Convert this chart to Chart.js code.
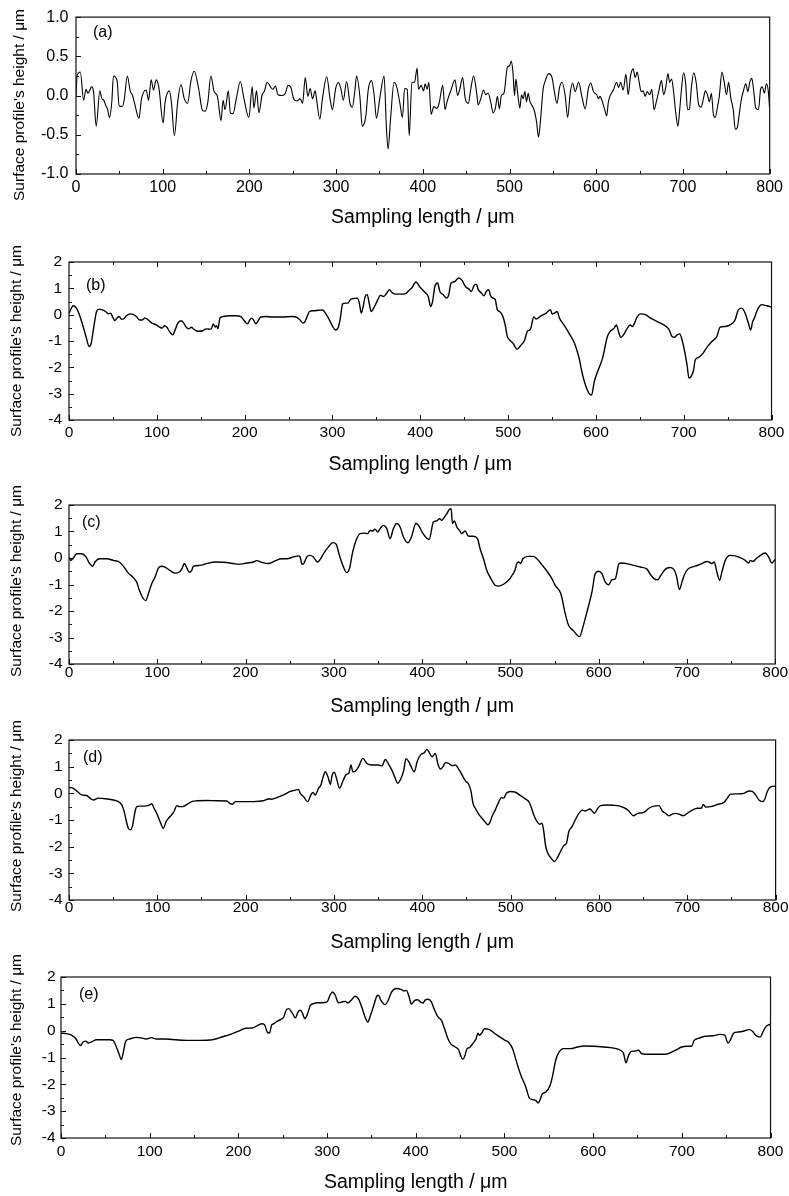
<!DOCTYPE html>
<html>
<head>
<meta charset="utf-8">
<title>Surface profiles</title>
<script src="https://cdn.jsdelivr.net/npm/chart.js@4.4.1/dist/chart.umd.min.js"></script>
<style>
  html, body { margin: 0; padding: 0; background: #fff; }
  body { width: 789px; height: 1196px; position: relative; overflow: hidden; }
  canvas { position: absolute; left: 0; }
</style>
</head>
<body>
<canvas id="pa"></canvas>
<canvas id="pb"></canvas>
<canvas id="pc"></canvas>
<canvas id="pd"></canvas>
<canvas id="pe"></canvas>
<script>
// ---- profile data: sampling position (µm) and surface height (µm) ----

const lengthA = [0, 1.2, 5.0, 8.8, 11.5, 13.8, 16.0, 18.0, 20.2, 23.3,
  27.5, 29.8, 32.1, 34.4, 36.3, 38.6, 41.3, 43.2, 47.4, 49.7,
  53.5, 55.8, 59.2, 62.7, 64.9, 67.6, 72.6, 75.6, 81.0, 83.7,
  86.7, 89.4, 92.5, 95.5, 100.5, 102.8, 107.7, 110.0, 113.5, 117.3,
  121.1, 124.9, 128.7, 132.6, 136.4, 141.4, 145.9, 149.0, 152.1, 155.5,
  159.3, 163.1, 167.3, 169.6, 171.9, 175.7, 178.0, 181.1, 184.9, 189.5,
  193.7, 199.4, 203.2, 205.2, 208.2, 210.9, 214.7, 217.4, 220.4, 224.3,
  226.9, 230.0, 233.0, 237.6, 241.5, 244.5, 247.6, 251.0, 254.8, 258.6,
  261.3, 264.4, 267.4, 270.1, 272.8, 275.8, 277.7, 281.2, 284.2, 289.2,
  293.0, 295.7, 299.5, 302.6, 305.6, 308.3, 312.1, 316.0, 318.6, 321.7,
  323.6, 327.4, 330.1, 334.3, 337.0, 340.8, 343.8, 346.5, 350.3, 355.3,
  358.0, 359.9, 362.9, 366.8, 369.4, 373.3, 376.5, 379.0, 382.0, 384.3,
  387.4, 390.4, 393.5, 395.0, 398.1, 400.8, 402.7, 405.0, 406.9, 409.6,
  412.6, 415.3, 417.2, 419.1, 423.0, 425.6, 427.9, 432.5, 437.1, 440.1,
  442.8, 445.9, 448.9, 452.4, 455.4, 458.5, 461.9, 463.8, 466.9, 469.9,
  472.6, 475.3, 478.3, 481.0, 483.7, 486.0, 488.3, 490.6, 493.6, 497.5,
  500.1, 502.0, 503.9, 505.8, 507.3, 509.6, 511.9, 513.8, 515.8, 517.7,
  519.6, 521.5, 523.4, 526.1, 528.8, 531.1, 533.4, 535.6, 538.6, 541.3,
  545.2, 549.0, 552.0, 554.7, 557.8, 560.5, 564.3, 567.0, 570.0, 572.7,
  575.8, 579.6, 583.4, 587.2, 591.0, 593.7, 596.8, 600.6, 602.5, 604.4,
  607.1, 609.8, 612.0, 614.0, 616.6, 619.7, 623.5, 625.8, 628.1, 631.1,
  634.2, 636.9, 639.5, 642.6, 644.9, 647.2, 649.5, 651.8, 654.1, 656.4,
  658.7, 661.7, 664.0, 666.7, 669.3, 672.4, 675.1, 677.8, 680.1, 682.7,
  684.6, 686.9, 689.2, 691.5, 694.2, 696.1, 698.4, 700.7, 703.0, 705.3,
  707.5, 709.8, 712.5, 715.2, 718.2, 720.9, 723.6, 725.9, 728.2, 730.5,
  732.8, 735.1, 737.3, 739.6, 741.9, 745.0, 747.6, 750.3, 752.6, 755.3,
  758.0, 760.3, 762.6, 764.9, 767.2, 770.2, 772.5, 774.8, 777.1, 779.4,
  781.7, 784.0, 787.1, 789.7, 791.6, 793.9, 796.2, 798.5, 800.0];
const heightA = [-0.02, 0.25, 0.30, -0.06, 0.08, 0.03, 0.07, 0.11, 0.05, -0.39,
  0.06, -0.04, -0.06, -0.13, -0.17, -0.28, -0.08, 0.25, 0.19, -0.13,
  -0.14, -0.04, 0.25, 0.05, 0.01, -0.10, -0.29, -0.04, 0.07, -0.06,
  0.20, 0.07, 0.20, 0.11, -0.35, -0.08, 0.06, -0.08, -0.51, -0.08,
  0.14, -0.04, -0.10, 0.19, 0.31, 0.09, -0.19, -0.20, -0.08, 0.25,
  0.05, -0.01, -0.32, -0.06, -0.18, 0.06, -0.22, -0.23, -0.04, 0.18,
  -0.04, -0.28, 0.11, -0.16, 0.06, -0.22, 0.01, 0.06, 0.17, 0.11,
  0.08, 0.12, 0.01, 0.00, 0.03, 0.13, 0.11, -0.04, -0.07, -0.04,
  -0.10, 0.23, -0.01, 0.09, -0.04, 0.06, -0.07, -0.30, -0.04, 0.24,
  -0.04, -0.18, 0.09, 0.17, 0.08, -0.06, 0.18, -0.10, -0.15, 0.07,
  0.25, -0.01, -0.39, -0.26, 0.07, 0.19, 0.01, -0.29, -0.04, 0.25,
  -0.41, -0.68, -0.28, 0.17, 0.13, -0.08, -0.28, 0.09, 0.08, -0.51,
  0.17, 0.17, 0.35, 0.08, 0.13, 0.06, 0.15, 0.08, 0.17, -0.24,
  -0.14, -0.16, -0.15, -0.08, 0.13, -0.18, -0.08, 0.07, 0.20, 0.00,
  0.09, 0.23, -0.04, -0.10, 0.09, 0.25, 0.05, -0.12, -0.04, 0.07,
  0.01, 0.03, -0.08, -0.22, -0.16, -0.01, -0.17, 0.00, 0.03, 0.36,
  0.38, 0.44, 0.30, 0.00, 0.21, 0.01, -0.16, 0.01, -0.04, 0.05,
  -0.08, 0.03, -0.07, -0.13, -0.20, -0.33, -0.53, -0.33, 0.07, 0.19,
  0.28, 0.23, 0.03, -0.10, 0.11, 0.17, -0.01, -0.28, 0.03, 0.16,
  0.05, 0.17, -0.01, -0.17, 0.09, 0.16, 0.05, 0.01, -0.04, -0.01,
  -0.08, -0.18, -0.26, -0.08, 0.01, 0.07, 0.17, 0.10, 0.17, 0.07,
  0.27, 0.01, 0.25, 0.34, 0.23, 0.30, 0.17, 0.05, 0.06, -0.01,
  0.05, 0.01, 0.08, -0.18, -0.08, 0.07, 0.19, 0.01, 0.10, 0.28,
  0.17, 0.21, 0.05, -0.20, -0.39, -0.20, 0.09, 0.29, 0.17, -0.18,
  -0.17, 0.11, 0.29, 0.17, -0.12, -0.15, -0.04, 0.06, 0.01, -0.08,
  0.03, -0.24, -0.28, -0.16, -0.01, 0.30, 0.17, 0.01, 0.17, -0.04,
  -0.18, -0.43, -0.41, -0.24, -0.06, 0.08, 0.15, 0.05, 0.17, 0.22,
  0.05, -0.16, -0.18, 0.09, 0.11, 0.03, 0.15, 0.05, -0.18];

const lengthB = [0, 4.9, 9.4, 14.4, 19.3, 23.0, 25.3, 28.3, 31.4, 34.4,
  38.1, 41.9, 45.0, 47.2, 49.5, 52.1, 54.8, 57.0, 59.7, 62.3,
  65.3, 69.9, 72.9, 76.7, 80.5, 83.5, 86.5, 90.3, 93.7, 99.3,
  103.1, 106.1, 108.8, 111.4, 114.4, 118.2, 121.2, 123.9, 127.7, 130.3,
  133.3, 136.4, 139.4, 142.0, 144.7, 148.4, 152.2, 155.2, 157.5, 159.8,
  162.0, 164.3, 166.6, 168.1, 169.6, 171.9, 175.6, 182.4, 190.0, 195.7,
  199.4, 203.2, 205.9, 208.1, 210.4, 212.7, 214.9, 218.3, 224.0, 231.5,
  242.9, 254.2, 259.9, 263.6, 266.3, 268.6, 271.2, 273.9, 278.8, 284.4,
  288.9, 292.0, 296.5, 300.3, 303.3, 306.3, 309.0, 311.6, 314.6, 317.7,
  320.3, 325.2, 328.2, 330.5, 332.8, 335.0, 337.3, 339.6, 341.8, 344.1,
  347.9, 351.7, 354.7, 358.1, 361.9, 364.9, 367.5, 371.3, 377.0, 382.6,
  387.2, 390.2, 395.1, 399.6, 405.3, 409.1, 411.7, 414.0, 416.6, 419.7,
  422.3, 426.1, 429.9, 432.5, 434.8, 439.3, 443.8, 447.6, 451.4, 455.2,
  458.2, 461.2, 463.9, 465.8, 469.6, 472.5, 475.2, 477.8, 480.1, 482.8,
  485.4, 487.7, 490.4, 494.1, 496.7, 499.0, 501.7, 505.5, 510.4, 514.2,
  518.7, 521.8, 525.5, 529.3, 532.0, 537.7, 543.4, 548.3, 550.2, 552.8,
  555.9, 558.5, 564.2, 569.8, 575.5, 580.4, 584.9, 588.7, 592.5, 595.1,
  598.2, 602.0, 607.6, 613.3, 617.1, 620.8, 623.4, 625.7, 628.4, 631.4,
  635.2, 639.0, 641.6, 644.0, 647.2, 651.0, 656.6, 662.3, 669.8, 677.3,
  683.0, 686.8, 689.4, 692.5, 695.5, 698.1, 700.7, 703.8, 706.0, 708.3,
  711.3, 713.1, 716.9, 721.9, 726.4, 732.1, 737.7, 741.5, 747.2, 752.8,
  758.5, 762.3, 766.1, 769.9, 773.6, 776.3, 778.5, 780.1, 783.1, 786.1,
  788.7, 794.4, 800.0];
const heightB = [0.05, 0.34, 0.19, -0.26, -0.83, -1.21, -1.08, -0.45, 0.12, 0.21,
  0.18, 0.11, 0.03, 0.06, -0.07, -0.22, -0.13, -0.07, -0.17, -0.16,
  -0.04, 0.03, 0.01, -0.07, -0.20, -0.20, -0.12, -0.20, -0.30, -0.39,
  -0.47, -0.51, -0.42, -0.48, -0.64, -0.76, -0.55, -0.32, -0.23, -0.30,
  -0.47, -0.54, -0.48, -0.55, -0.61, -0.63, -0.61, -0.55, -0.54, -0.55,
  -0.54, -0.35, -0.47, -0.42, -0.53, -0.13, -0.07, -0.04, -0.04, -0.07,
  -0.22, -0.35, -0.20, -0.13, -0.22, -0.35, -0.26, -0.09, -0.07, -0.09,
  -0.09, -0.07, -0.11, -0.22, -0.32, -0.27, -0.07, 0.12, 0.15, 0.17,
  0.18, 0.06, -0.20, -0.45, -0.58, -0.51, -0.13, 0.41, 0.44, 0.44,
  0.57, 0.62, 0.63, 0.46, 0.06, 0.31, 0.69, 0.76, 0.44, 0.12,
  0.31, 0.57, 0.74, 0.69, 0.82, 0.95, 0.85, 0.78, 0.78, 0.79,
  0.92, 1.01, 1.24, 1.05, 0.85, 0.69, 0.31, 0.50, 1.07, 1.20,
  0.88, 0.76, 0.63, 0.76, 1.18, 1.26, 1.39, 1.30, 1.07, 0.98,
  0.88, 1.10, 1.16, 0.97, 0.82, 0.72, 0.88, 0.95, 0.72, 0.63,
  0.57, 0.19, 0.12, -0.07, -0.39, -0.81, -0.96, -1.08, -1.31, -1.18,
  -0.98, -0.64, -0.55, -0.09, -0.17, -0.04, 0.06, 0.19, 0.02, 0.06,
  0.12, -0.13, -0.42, -0.73, -1.08, -1.59, -2.29, -2.73, -3.01, -3.05,
  -2.54, -2.16, -1.65, -0.81, -0.61, -0.51, -0.39, -0.64, -0.86, -0.77,
  -0.55, -0.39, -0.45, -0.32, -0.07, 0.03, 0.00, -0.13, -0.26, -0.39,
  -0.55, -0.83, -0.86, -0.77, -0.73, -0.96, -1.34, -1.91, -2.41, -2.35,
  -2.10, -1.72, -1.62, -1.47, -1.24, -1.02, -0.83, -0.47, -0.45, -0.39,
  -0.20, 0.19, 0.25, 0.06, -0.32, -0.58, -0.26, -0.16, 0.12, 0.31,
  0.38, 0.34, 0.29];

const lengthC = [0, 1.9, 4.9, 8.7, 14.4, 19.3, 23.0, 26.8, 29.5, 34.4,
  42.7, 50.2, 57.0, 62.3, 67.2, 72.9, 76.7, 79.7, 83.5, 86.9,
  89.9, 93.7, 97.5, 101.2, 104.9, 108.8, 114.4, 120.1, 125.0, 128.0,
  130.7, 133.3, 136.4, 139.0, 140.9, 148.4, 156.0, 165.4, 174.9, 186.2,
  191.9, 201.3, 208.9, 212.7, 218.3, 225.9, 233.4, 241.0, 246.7, 254.2,
  259.9, 261.8, 264.0, 266.3, 269.3, 273.1, 276.9, 281.4, 284.4, 288.2,
  293.9, 298.8, 302.6, 306.3, 310.9, 314.6, 317.7, 321.4, 325.2, 329.7,
  334.3, 338.0, 341.1, 344.1, 346.7, 349.8, 352.4, 356.2, 360.0, 363.7,
  367.5, 371.3, 375.1, 378.9, 384.0, 388.0, 393.0, 396.5, 400.5, 408.0,
  412.8, 416.6, 419.7, 422.3, 424.9, 428.0, 431.0, 432.9, 434.3, 436.6,
  439.3, 442.3, 444.9, 448.7, 452.5, 458.2, 462.7, 465.7, 469.5, 473.3,
  477.0, 482.7, 486.5, 492.2, 497.8, 501.6, 505.4, 507.3, 509.6, 511.8,
  514.1, 520.5, 526.2, 530.0, 535.6, 541.3, 547.0, 550.8, 557.2, 562.1,
  565.9, 571.6, 578.4, 582.2, 586.7, 592.4, 596.1, 599.9, 603.7, 607.5,
  611.3, 615.1, 618.9, 622.6, 624.5, 632.1, 639.6, 647.2, 654.7, 659.2,
  663.0, 666.7, 670.5, 675.4, 680.3, 684.8, 687.9, 691.6, 694.3, 696.9,
  700.7, 709.4, 717.0, 722.6, 725.6, 728.3, 730.9, 733.9, 737.0, 739.6,
  743.4, 749.0, 754.7, 760.3, 766.0, 769.8, 771.7, 774.7, 779.2, 784.9,
  788.7, 792.5, 796.3, 798.9, 800.0];
const heightC = [0.04, -0.09, 0.00, 0.16, 0.16, 0.04, -0.19, -0.31, -0.15, -0.03,
  -0.03, -0.09, -0.15, -0.34, -0.57, -0.74, -0.91, -1.22, -1.50, -1.61,
  -1.35, -0.97, -0.72, -0.38, -0.31, -0.34, -0.47, -0.57, -0.53, -0.40,
  -0.21, -0.36, -0.54, -0.47, -0.31, -0.28, -0.21, -0.15, -0.16, -0.21,
  -0.24, -0.19, -0.15, -0.10, -0.16, -0.21, -0.11, -0.03, -0.03, 0.04,
  0.08, 0.04, -0.24, -0.19, 0.04, 0.10, 0.04, -0.15, -0.06, 0.16,
  0.42, 0.58, 0.52, 0.10, -0.34, -0.55, -0.40, 0.23, 0.67, 0.92,
  0.94, 0.92, 1.04, 1.02, 1.09, 0.98, 1.11, 1.23, 1.11, 0.73,
  1.11, 1.30, 1.17, 0.79, 0.57, 0.80, 1.31, 1.20, 0.95, 0.70,
  1.36, 1.40, 1.48, 1.42, 1.52, 1.67, 1.84, 1.86, 1.30, 1.40,
  1.17, 1.04, 0.92, 1.02, 0.82, 0.82, 0.73, 0.35, -0.03, -0.47,
  -0.72, -1.03, -1.06, -0.99, -0.84, -0.67, -0.44, -0.21, -0.15, -0.21,
  -0.03, 0.06, 0.06, -0.03, -0.25, -0.49, -0.78, -1.03, -1.35, -2.10,
  -2.54, -2.75, -2.97, -2.60, -2.04, -1.28, -0.59, -0.50, -0.59, -0.91,
  -1.01, -0.82, -0.78, -0.24, -0.19, -0.21, -0.28, -0.34, -0.42, -0.65,
  -0.79, -0.82, -0.65, -0.43, -0.36, -0.42, -0.65, -1.19, -0.91, -0.65,
  -0.43, -0.31, -0.21, -0.13, -0.16, -0.21, -0.15, -0.53, -0.84, -0.53,
  -0.09, 0.10, 0.08, 0.01, -0.09, -0.19, -0.09, -0.13, 0.00, 0.14,
  0.19, 0.04, -0.19, -0.09, -0.06];

const lengthD = [0, 4.9, 9.4, 14.4, 20.0, 23.8, 27.5, 33.2, 42.7, 50.2,
  55.9, 59.7, 62.3, 64.6, 67.2, 69.9, 72.1, 74.8, 76.7, 80.5,
  87.3, 91.0, 93.7, 96.3, 99.3, 103.1, 106.9, 109.9, 114.4, 119.0,
  122.0, 125.0, 128.8, 133.3, 139.0, 144.7, 156.0, 167.3, 178.7, 182.4,
  185.1, 188.1, 197.5, 208.9, 220.2, 225.9, 229.6, 235.3, 242.9, 250.4,
  256.1, 259.9, 261.8, 265.5, 270.1, 273.9, 276.1, 278.8, 282.5, 285.2,
  287.5, 290.1, 293.2, 295.8, 298.0, 300.3, 303.3, 306.3, 310.1, 313.9,
  316.9, 319.2, 321.4, 324.5, 327.9, 332.8, 337.3, 343.0, 350.5, 354.3,
  358.1, 361.9, 365.6, 369.4, 372.1, 375.1, 378.9, 381.5, 384.5, 387.2,
  390.9, 394.3, 398.5, 402.2, 405.3, 408.3, 411.0, 414.8, 417.5, 420.5,
  423.4, 426.1, 429.9, 433.7, 437.4, 441.2, 445.0, 448.8, 452.5, 455.2,
  457.3, 460.0, 463.8, 467.5, 471.3, 474.0, 476.2, 478.9, 482.6, 486.5,
  489.5, 492.1, 495.1, 499.7, 505.4, 511.0, 516.7, 520.5, 523.1, 526.2,
  529.9, 532.9, 535.6, 537.5, 539.4, 542.0, 545.8, 549.6, 552.7, 556.4,
  560.2, 563.2, 565.9, 569.7, 573.5, 577.3, 581.0, 584.7, 589.6, 592.3,
  595.0, 598.0, 601.7, 609.3, 620.6, 628.2, 633.9, 635.8, 638.9, 643.3,
  650.8, 656.5, 662.2, 667.9, 671.7, 675.4, 679.2, 683.0, 686.7, 690.5,
  695.4, 700.0, 705.6, 711.3, 715.8, 718.1, 720.7, 726.4, 734.0, 741.5,
  745.3, 749.0, 756.6, 764.1, 769.8, 773.6, 777.4, 781.1, 784.9, 787.9,
  790.6, 794.4, 799.0, 800.0];
const heightD = [0.22, 0.19, 0.07, -0.06, -0.08, -0.18, -0.25, -0.18, -0.21, -0.25,
  -0.31, -0.43, -0.66, -1.00, -1.31, -1.37, -1.18, -0.68, -0.50, -0.48,
  -0.47, -0.44, -0.39, -0.56, -0.75, -1.06, -1.31, -1.06, -0.87, -0.68,
  -0.46, -0.50, -0.50, -0.42, -0.31, -0.28, -0.27, -0.28, -0.29, -0.39,
  -0.41, -0.31, -0.31, -0.31, -0.28, -0.21, -0.22, -0.16, -0.06, 0.07,
  0.12, 0.15, 0.00, -0.12, -0.31, -0.06, 0.03, -0.06, 0.19, 0.31,
  0.59, 0.81, 0.62, 0.34, 0.69, 0.79, 0.50, 0.19, 0.46, 0.71,
  0.75, 1.06, 0.81, 0.84, 1.00, 1.31, 1.12, 1.06, 1.06, 1.03,
  1.27, 1.09, 0.87, 0.56, 0.38, 0.50, 0.85, 1.30, 1.20, 1.01,
  0.81, 1.20, 1.46, 1.52, 1.65, 1.50, 1.37, 1.50, 1.12, 0.91,
  1.00, 1.15, 1.12, 1.03, 1.06, 0.91, 0.69, 0.47, 0.34, 0.07,
  -0.37, -0.56, -0.78, -0.93, -1.08, -1.18, -1.12, -0.87, -0.62, -0.33,
  -0.16, -0.18, 0.00, 0.07, 0.04, -0.08, -0.21, -0.31, -0.50, -0.81,
  -1.06, -1.16, -1.12, -1.43, -1.93, -2.24, -2.43, -2.56, -2.43, -2.18,
  -1.96, -1.87, -1.43, -1.24, -0.97, -0.75, -0.63, -0.66, -0.59, -0.66,
  -0.75, -0.59, -0.46, -0.44, -0.46, -0.54, -0.66, -0.75, -0.84, -0.76,
  -0.71, -0.56, -0.48, -0.46, -0.66, -0.75, -0.84, -0.78, -0.75, -0.78,
  -0.84, -0.75, -0.63, -0.56, -0.56, -0.42, -0.51, -0.50, -0.42, -0.34,
  -0.18, -0.03, -0.02, 0.00, 0.09, 0.07, -0.06, -0.25, -0.31, -0.21,
  0.07, 0.24, 0.27, 0.27];

const lengthE = [0, 6.4, 12.0, 16.8, 19.4, 22.1, 25.0, 28.0, 30.7, 34.4,
  40.0, 47.5, 55.0, 58.7, 62.4, 65.4, 68.0, 70.7, 72.9, 77.4,
  84.9, 90.5, 96.1, 101.7, 107.3, 118.5, 129.7, 140.9, 155.9, 170.8,
  178.3, 185.8, 193.3, 200.7, 208.2, 215.7, 221.3, 226.9, 229.9, 232.5,
  235.1, 237.4, 240.0, 243.7, 247.5, 251.2, 253.8, 256.8, 260.6, 264.3,
  267.3, 269.9, 272.5, 274.8, 277.4, 281.1, 284.9, 288.6, 294.2, 300.0,
  303.6, 306.2, 309.2, 312.9, 316.6, 320.4, 323.4, 327.1, 331.6, 335.3,
  339.1, 342.8, 345.8, 348.4, 352.1, 355.9, 357.8, 360.7, 365.2, 368.9,
  372.7, 378.3, 383.9, 386.9, 389.5, 392.3, 395.1, 398.5, 402.2, 406.0,
  408.2, 410.8, 413.8, 417.6, 421.3, 425.0, 428.8, 432.5, 436.3, 440.0,
  444.5, 448.3, 450.5, 453.1, 454.9, 457.9, 460.6, 464.3, 468.0, 469.9,
  471.8, 474.4, 477.4, 483.0, 490.5, 496.1, 500.6, 504.3, 509.2, 512.9,
  518.5, 524.1, 527.9, 531.6, 535.3, 538.0, 540.2, 542.8, 546.5, 551.4,
  554.0, 557.7, 561.5, 566.4, 574.6, 582.1, 589.5, 600.7, 611.9, 623.2,
  630.6, 634.4, 637.0, 640.0, 643.0, 647.5, 651.2, 654.9, 662.4, 671.8,
  681.1, 686.7, 694.2, 699.8, 705.4, 711.0, 714.0, 718.5, 725.9, 735.3,
  742.8, 748.4, 752.1, 754.8, 758.5, 763.4, 769.0, 775.7, 779.4, 783.2,
  788.4, 791.4, 795.1, 800.0];
const heightE = [-0.09, -0.11, -0.17, -0.30, -0.46, -0.55, -0.42, -0.39, -0.46, -0.42,
  -0.34, -0.34, -0.34, -0.36, -0.61, -0.86, -1.08, -0.73, -0.40, -0.31,
  -0.25, -0.27, -0.31, -0.26, -0.31, -0.31, -0.34, -0.36, -0.36, -0.34,
  -0.27, -0.19, -0.11, -0.01, 0.09, 0.10, 0.19, 0.26, 0.20, -0.05,
  -0.09, 0.20, 0.26, 0.35, 0.41, 0.51, 0.76, 0.82, 0.66, 0.48,
  0.70, 0.76, 0.63, 0.45, 0.57, 0.94, 1.01, 1.04, 1.04, 1.07,
  1.34, 1.44, 1.32, 1.04, 1.07, 1.09, 1.03, 1.13, 1.28, 1.19,
  0.88, 0.51, 0.32, 0.51, 0.88, 1.28, 1.32, 1.13, 0.97, 1.13,
  1.44, 1.57, 1.53, 1.48, 1.50, 1.28, 0.99, 1.12, 1.15, 1.05,
  1.03, 1.15, 1.17, 1.07, 0.76, 0.51, 0.39, 0.07, -0.30, -0.51,
  -0.61, -0.71, -0.92, -1.07, -0.98, -0.67, -0.63, -0.48, -0.30, -0.09,
  -0.17, -0.09, 0.07, 0.04, -0.14, -0.26, -0.36, -0.42, -0.67, -1.08,
  -1.66, -2.10, -2.50, -2.57, -2.60, -2.70, -2.57, -2.35, -2.29, -2.04,
  -1.73, -1.11, -0.80, -0.67, -0.67, -0.61, -0.57, -0.58, -0.61, -0.65,
  -0.73, -0.86, -1.20, -0.92, -0.77, -0.76, -0.73, -0.86, -0.88, -0.88,
  -0.88, -0.83, -0.71, -0.61, -0.58, -0.58, -0.36, -0.29, -0.21, -0.19,
  -0.14, -0.17, -0.46, -0.34, -0.09, -0.05, -0.02, 0.04, -0.01, -0.17,
  -0.24, -0.05, 0.16, 0.24];

// ---- axis ranges and labels ----
const lengthRange = [0, 800];
const lengthStep = 100;
const heightRangeA = [-1, 1];
const heightStepA = 0.5;
const heightRange = [-4, 2];
const heightStep = 1;
const panelTags = ['(a)', '(b)', '(c)', '(d)', '(e)'];
const xTitle = 'Sampling length / \u03bcm';
const yTitle = "Surface profile's height / \u03bcm";

// ---- layout of the five stacked panels (page pixels) ----
// Canvases overlap a little so the rotated titles are never cut off.
const FONT = '"Liberation Sans", Arial, Helvetica, sans-serif';
const PAGE_W = 789;
const panels = [
  { id: 'pa', xs: lengthA, ys: heightA, range: heightRangeA, step: heightStepA, dec: 1,
    top: 0, h: 238, plot: { l: 76, t: 13, r: 774, b: 174 }, xLabelOff: 14, yLabelPad: 7.5, tickSize: 16,
    xTitleY: 218, yTitleX: 20, yTitleY: 105, tagX: 93, tagY: 33, topTicks: false, lw: 1.1 },
  { id: 'pb', xs: lengthB, ys: heightB, range: heightRange, step: heightStep, dec: 0,
    top: 232, h: 248, plot: { l: 69, t: 262, r: 775, b: 420 }, xLabelOff: 12.3, yLabelPad: 7, tickSize: 15.5,
    xTitleY: 465, yTitleX: 17, yTitleY: 341, tagX: 86, tagY: 286, topTicks: true, lw: 1.4 },
  { id: 'pc', xs: lengthC, ys: heightC, range: heightRange, step: heightStep, dec: 0,
    top: 474, h: 244, plot: { l: 69, t: 505, r: 776, b: 664 }, xLabelOff: 8.6, yLabelPad: 6.5, tickSize: 15.5,
    xTitleY: 707, yTitleX: 17, yTitleY: 581, tagX: 82, tagY: 523, topTicks: false, lw: 1.4 },
  { id: 'pd', xs: lengthD, ys: heightD, range: heightRange, step: heightStep, dec: 0,
    top: 710, h: 248, plot: { l: 69, t: 740, r: 776, b: 900 }, xLabelOff: 8.2, yLabelPad: 6.5, tickSize: 15.5,
    xTitleY: 943, yTitleX: 17, yTitleY: 816, tagX: 83, tagY: 758, topTicks: false, lw: 1.4 },
  { id: 'pe', xs: lengthE, ys: heightE, range: heightRange, step: heightStep, dec: 0,
    top: 944, h: 252, plot: { l: 61, t: 977, r: 774, b: 1138 }, xLabelOff: 13.3, yLabelPad: 5.5, tickSize: 15.5,
    xTitleY: 1183, yTitleX: 17, yTitleY: 1050, tagX: 79, tagY: 995, topTicks: false, lw: 1.4 }
];

// frame, inward major/minor ticks, panel tag and vertical axis title
const panelDecor = {
  id: 'panelDecor',
  afterDatasetsDraw(chart, args, o) {
    const { ctx, chartArea: a, scales: { x, y } } = chart;
    ctx.save();
    ctx.strokeStyle = '#111';
    ctx.lineWidth = 1.2;
    ctx.strokeRect(a.left, a.top, a.right - a.left, a.bottom - a.top);

    ctx.lineWidth = 1;
    ctx.beginPath();
    const nx = Math.round((x.max - x.min) / (o.xStep / 2));
    for (let i = 0; i <= nx; i++) {
      const px = Math.round(x.getPixelForValue(x.min + i * o.xStep / 2)) + 0.5;
      const len = i % 2 === 0 ? 5 : 3;
      ctx.moveTo(px, a.bottom); ctx.lineTo(px, a.bottom - len);
      if (o.topTicks && i > 0 && i < nx) { ctx.moveTo(px, a.top); ctx.lineTo(px, a.top + len); }
    }
    const ny = Math.round((y.max - y.min) / (o.yStep / 2));
    for (let i = 0; i <= ny; i++) {
      const py = Math.round(y.getPixelForValue(y.min + i * o.yStep / 2)) + 0.5;
      const len = i % 2 === 0 ? 5 : 3;
      ctx.moveTo(a.left, py); ctx.lineTo(a.left + len, py);
    }
    ctx.stroke();

    ctx.fillStyle = '#000';
    ctx.font = '16px ' + FONT;
    ctx.textAlign = 'left';
    ctx.textBaseline = 'middle';
    ctx.fillText(o.tag, o.tagX, o.tagY);

    ctx.translate(o.yTitleX, o.yTitleY);
    ctx.rotate(-Math.PI / 2);
    ctx.textAlign = 'center';
    ctx.font = '15.5px ' + FONT;
    ctx.fillText(o.yTitle, 0, 0);
    ctx.restore();
  }
};

panels.forEach((p, k) => {
  const canvas = document.getElementById(p.id);
  canvas.width = PAGE_W;
  canvas.height = p.h;
  canvas.style.width = PAGE_W + 'px';
  canvas.style.height = p.h + 'px';
  canvas.style.top = p.top + 'px';

  const xAxisH = p.top + p.h - p.plot.b;
  const titleSize = 19.5;
  const titlePadBottom = (p.top + p.h) - p.xTitleY - titleSize / 2;

  new Chart(canvas, {
    type: 'line',
    data: {
      datasets: [{
        data: p.xs.map((v, i) => ({ x: v, y: p.ys[i] })),
        borderColor: '#000',
        borderWidth: p.lw,
        pointRadius: 0,
        fill: false,
        cubicInterpolationMode: 'monotone'
      }]
    },
    options: {
      responsive: false,
      animation: false,
      devicePixelRatio: 1,
      events: [],
      layout: { padding: { top: p.plot.t - p.top, right: PAGE_W - p.plot.r, left: 0, bottom: 0 } },
      plugins: {
        legend: { display: false },
        tooltip: { enabled: false },
        panelDecor: {
          tag: panelTags[k], tagX: p.tagX, tagY: p.tagY - p.top,
          yTitle: yTitle, yTitleX: p.yTitleX, yTitleY: p.yTitleY - p.top,
          xStep: lengthStep, yStep: p.step, topTicks: p.topTicks
        }
      },
      scales: {
        x: {
          type: 'linear',
          position: 'bottom',
          min: lengthRange[0],
          max: lengthRange[1],
          afterFit(s) { s.height = xAxisH; },
          grid: { display: false, drawTicks: false },
          border: { display: false },
          ticks: {
            stepSize: lengthStep,
            autoSkip: false,
            maxRotation: 0,
            padding: p.xLabelOff - p.tickSize / 2,
            color: '#000',
            font: { family: FONT, size: p.tickSize, lineHeight: 1 }
          },
          title: {
            display: true,
            text: xTitle,
            color: '#000',
            font: { family: FONT, size: titleSize, lineHeight: 1 },
            padding: { top: 0, bottom: titlePadBottom }
          }
        },
        y: {
          type: 'linear',
          position: 'left',
          min: p.range[0],
          max: p.range[1],
          afterFit(s) { s.width = p.plot.l; },
          grid: { display: false, drawTicks: false },
          border: { display: false },
          ticks: {
            stepSize: p.step,
            padding: p.yLabelPad,
            color: '#000',
            font: { family: FONT, size: p.tickSize },
            callback: (v) => Number(v).toFixed(p.dec)
          }
        }
      }
    },
    plugins: [panelDecor]
  });
});
</script>
</body>
</html>
